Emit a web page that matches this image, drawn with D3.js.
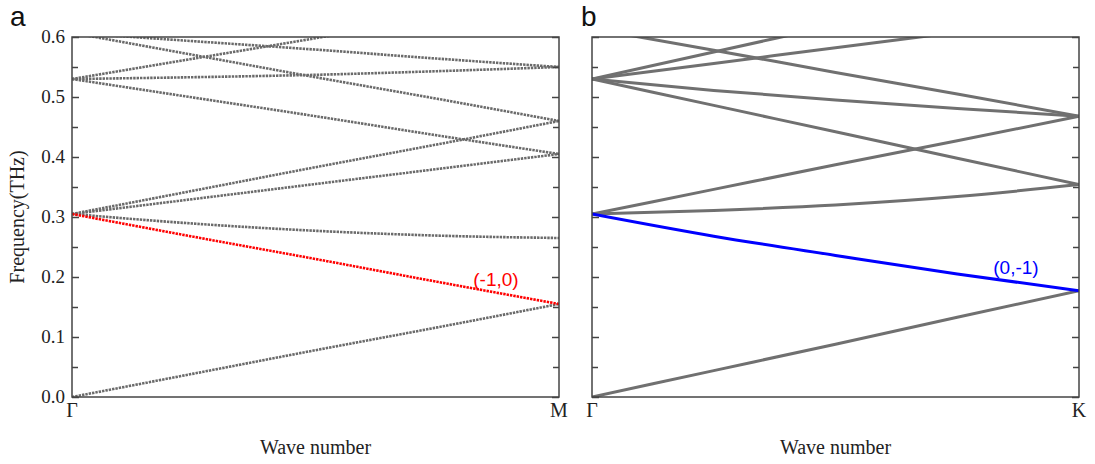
<!DOCTYPE html>
<html>
<head lang="en">
    <meta charset="UTF-8">
    <title></title>
    <script src="https://cdn.jsdelivr.net/npm/d3@7"></script>
    <style>
        body{margin:0;background:#fff;}
        .tick-label,.axis-title,.sym{font-family:"Liberation Serif","Times New Roman",serif;fill:#222;}
        .panel-tag{font-family:"Liberation Sans",Arial,sans-serif;fill:#111;}
        .frame{fill:none;stroke:#444;stroke-width:1.5px;}
    </style>
</head>
<body>
<script>
    // k positions along the path (0 = Gamma, 1 = zone edge)
    var kGrid=[0,0.25,0.5,0.75,1];
    var yTicks=[0.0,0.1,0.2,0.3,0.4,0.5,0.6];
    var yMinor=[0.05,0.15,0.25,0.35,0.45,0.55];

    // panel a : Gamma - M  (dotted bands)
    var bandsA=[
        [0.000,0.039,0.078,0.116,0.155],
        [0.305,0.289,0.277,0.269,0.265],
        [0.305,0.330,0.355,0.380,0.405],
        [0.305,0.344,0.383,0.421,0.460],
        [0.530,0.499,0.468,0.436,0.405],
        [0.530,0.533,0.537,0.543,0.550],
        [0.530,0.564,0.598,0.633,0.667],
        [0.607,0.593,0.579,0.564,0.550],
        [0.607,0.570,0.533,0.497,0.460]
    ];
    var markedA=[0.305,0.267,0.230,0.192,0.155];   // (-1,0)

    // panel b : Gamma - K  (solid bands)
    var bandsB=[
        [0.000,0.044,0.088,0.133,0.177],
        [0.305,0.311,0.320,0.334,0.354],
        [0.305,0.346,0.387,0.427,0.468],
        [0.530,0.486,0.442,0.398,0.354],
        [0.530,0.511,0.495,0.481,0.468],
        [0.530,0.556,0.582,0.608,0.634],
        [0.530,0.575,0.620,0.665,0.710],
        [0.614,0.578,0.541,0.505,0.468]
    ];
    var markedB=[0.305,0.268,0.236,0.205,0.177];   // (0,-1)

    var W=1095,H=464;
    var svg=d3.select("body").append("svg").attr("width",W).attr("height",H);

    var panels=[
        {tag:"a",x0:72,x1:559,bands:bandsA,mark:markedA,markColor:"#ff0000",markLabel:"(-1,0)",
         end:"M",dotted:true,labels:true,lx:496,ly:286},
        {tag:"b",x0:592,x1:1079,bands:bandsB,mark:markedB,markColor:"#0000ff",markLabel:"(0,-1)",
         end:"K",dotted:false,labels:false,lx:1016,ly:274}
    ];
    var yTop=37,yBot=397;

    panels.forEach(function(p,pi){
        var x=d3.scaleLinear().domain([0,1]).range([p.x0,p.x1]);
        var y=d3.scaleLinear().domain([0,0.6]).range([yBot,yTop]);
        var g=svg.append("g");

        g.append("clipPath").attr("id","clip"+pi)
            .append("rect").attr("x",p.x0).attr("y",yTop)
            .attr("width",p.x1-p.x0).attr("height",yBot-yTop);

        var line=d3.line()
            .x(function(d,i){return x(kGrid[i]);})
            .y(function(d){return y(d);})
            .curve(d3.curveMonotoneX);

        var lines=g.append("g").attr("clip-path","url(#clip"+pi+")");
        lines.selectAll("path.band")
            .data(p.bands)
            .enter()
            .append("path")
            .attr("class","band")
            .attr("d",line)
            .attr("fill","none")
            .attr("stroke",p.dotted?"#6a6a6a":"#707070")
            .attr("stroke-width",p.dotted?2.6:3)
            .attr("stroke-dasharray",p.dotted?"2.4,1":null);
        lines.append("path")
            .datum(p.mark)
            .attr("d",line)
            .attr("fill","none")
            .attr("stroke",p.markColor)
            .attr("stroke-width",p.dotted?2.6:3)
            .attr("stroke-dasharray",p.dotted?"2.4,1":null);

        // axes: inward ticks both sides
        var axL=d3.axisRight(y).tickValues(yTicks).tickSize(7).tickFormat("");
        var axLm=d3.axisRight(y).tickValues(yMinor).tickSize(6).tickFormat("");
        var axR=d3.axisLeft(y).tickValues(yTicks).tickSize(7).tickFormat("");
        var axRm=d3.axisLeft(y).tickValues(yMinor).tickSize(6).tickFormat("");
        [[axL,p.x0],[axLm,p.x0],[axR,p.x1],[axRm,p.x1]].forEach(function(a){
            var ga=g.append("g").attr("transform","translate("+a[1]+",0)").call(a[0]);
            ga.select(".domain").remove();
            ga.selectAll("line").attr("stroke","#444").attr("stroke-width",1.5);
        });

        g.append("rect").attr("class","frame")
            .attr("x",p.x0).attr("y",yTop)
            .attr("width",p.x1-p.x0).attr("height",yBot-yTop);

        if(p.labels){
            g.selectAll("text.tick-label")
                .data(yTicks)
                .enter()
                .append("text")
                .attr("class","tick-label")
                .attr("x",p.x0-7)
                .attr("y",function(d){return y(d)+6;})
                .attr("text-anchor","end")
                .style("font-family","'Liberation Serif','Times New Roman',serif")
                .style("font-size","19px")
                .text(function(d){return d.toFixed(1);});
            g.append("text").attr("class","axis-title")
                .attr("transform","translate(24,"+((yTop+yBot)/2)+") rotate(-90)")
                .attr("text-anchor","middle")
                .style("font-size","20px")
                .text("Frequency(THz)");
        }

        g.append("text").attr("class","sym")
            .attr("x",x(0)).attr("y",417).attr("text-anchor","middle")
            .style("font-size","20px").text("\u0393");
        g.append("text").attr("class","sym")
            .attr("x",x(1)).attr("y",417).attr("text-anchor","middle")
            .style("font-size","20px").text(p.end);
        g.append("text").attr("class","axis-title")
            .attr("x",(p.x0+p.x1)/2).attr("y",454).attr("text-anchor","middle")
            .style("font-size","20px").text("Wave number");

        g.append("text")
            .attr("x",p.lx).attr("y",p.ly).attr("text-anchor","middle")
            .style("font-family","'Liberation Sans',Arial,sans-serif")
            .style("font-size","19px")
            .attr("fill",p.markColor)
            .text(p.markLabel);

        g.append("text").attr("class","panel-tag")
            .attr("x",p.x0-62+(pi?51:0)).attr("y",26)
            .style("font-size","28px")
            .text(p.tag);
    });
</script>
</body>
</html>
